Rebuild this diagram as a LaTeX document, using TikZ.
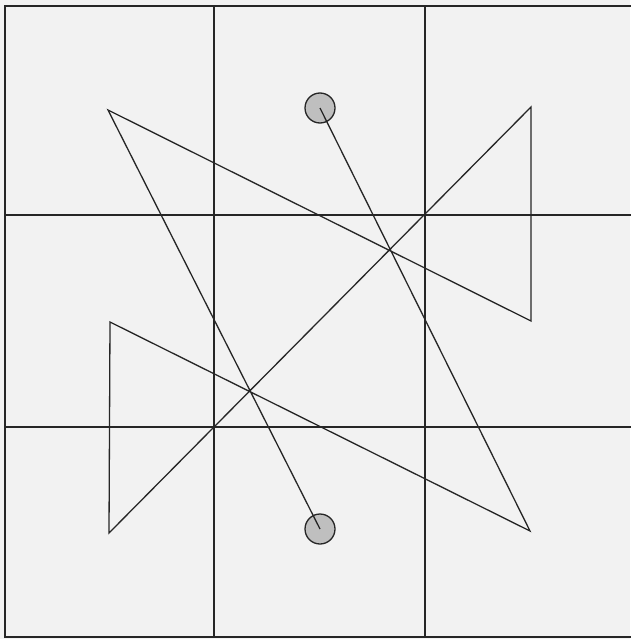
\documentclass[tikz,border=0pt]{standalone}
\begin{document}
\begin{tikzpicture}[x=1pt,y=-1pt,
  gridline/.style={draw=black!85,line width=1.5pt},
  pathline/.style={draw=black!85,line width=1.3pt,line join=miter},
  dot/.style={circle,draw=black!85,line width=1.3pt,fill=black!25,minimum size=30pt,inner sep=0pt}]
\useasboundingbox (0,0) rectangle (630,639);
\fill[black!5] (0,0) rectangle (630,639);
% grid
\draw[gridline] (5,6) rectangle (636,637);
\foreach \x in {214,425} \draw[gridline] (\x,6) -- (\x,637);
\foreach \y in {215,427} \draw[gridline] (5,\y) -- (636,\y);
% circles
\node[dot] (top) at (320,108) {};
\node[dot] (bot) at (320,529) {};
\coordinate (a) at (530,531);
\coordinate (b) at (110,322);
\coordinate (c) at (109,533);
\coordinate (d) at (531,107);
\coordinate (e) at (531,321);
\coordinate (f) at (108,110);
\draw[pathline] (top.center) -- (a) -- (b) -- (c) -- (d) -- (e) -- (f) -- (bot.center);
\end{tikzpicture}
\end{document}
